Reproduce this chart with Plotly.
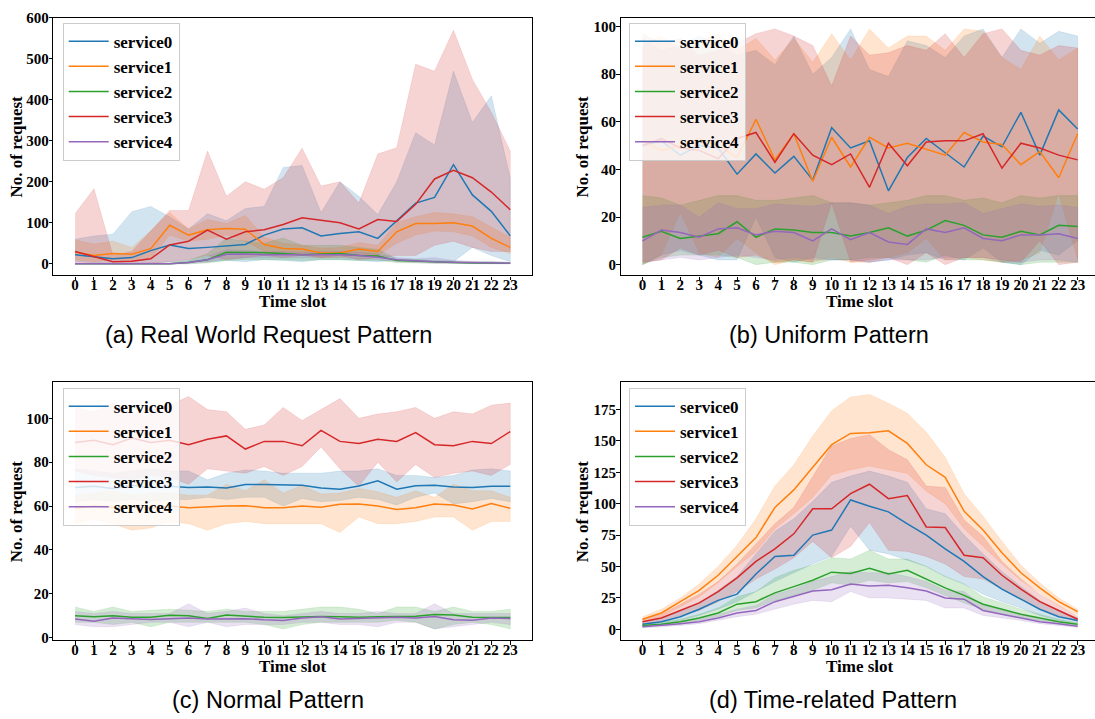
import plotly.graph_objects as go

HOURS = list(range(24))
SERVICES = ["service0", "service1", "service2", "service3", "service4"]
CAPTIONS = ["(a) Real World Request Pattern", "(b) Uniform Pattern",
            "(c) Normal Pattern", "(d) Time-related Pattern"]
X_TITLE = "Time slot"
Y_TITLE = "No. of request"

# ---------------- (a) Real world ----------------
a_mean0 = [22, 17, 12, 15, 32, 46, 37, 40, 43, 47, 70, 85, 88, 68, 74, 78, 62, 105, 148, 162, 242, 168, 128, 68]
a_up0 = [60, 68, 72, 127, 140, 115, 85, 122, 105, 135, 140, 235, 240, 125, 200, 165, 120, 200, 320, 290, 470, 345, 410, 210]
a_lo0 = [5, 2, 0, 0, 2, 5, 5, 5, 8, 5, 10, 8, 5, 10, 10, 8, 5, 10, 10, 5, 5, 40, 20, 5]
a_mean1 = [28, 20, 25, 23, 37, 94, 70, 83, 86, 84, 47, 37, 36, 26, 26, 36, 30, 78, 98, 98, 100, 92, 62, 40]
a_up1 = [58, 48, 55, 40, 80, 125, 85, 108, 98, 118, 65, 50, 45, 38, 40, 52, 45, 100, 115, 125, 122, 115, 90, 65]
a_lo1 = [10, 5, 10, 8, 12, 70, 55, 60, 70, 55, 30, 22, 25, 15, 15, 22, 20, 50, 70, 80, 78, 68, 40, 25]
a_mean2 = [0, 0, 0, 0, 0, 0, 3, 10, 28, 28, 27, 25, 22, 24, 25, 20, 19, 8, 6, 4, 3, 2, 2, 1]
a_up2 = [1, 1, 1, 1, 1, 2, 8, 25, 62, 55, 50, 63, 45, 45, 45, 40, 35, 12, 10, 8, 6, 5, 5, 3]
a_lo2 = [0, 0, 0, 0, 0, 0, 0, 2, 8, 10, 10, 10, 8, 10, 10, 8, 8, 3, 2, 1, 1, 0, 0, 0]
a_mean3 = [30, 18, 5, 6, 12, 46, 55, 82, 60, 78, 83, 96, 112, 106, 100, 85, 108, 103, 145, 207, 228, 210, 175, 132]
a_up3 = [122, 183, 20, 30, 80, 130, 130, 275, 165, 200, 182, 210, 282, 190, 200, 148, 268, 283, 487, 470, 570, 450, 370, 275]
a_lo3 = [0, 0, 0, 0, 0, 5, 10, 20, 10, 15, 20, 15, 20, 15, 20, 10, 15, 20, 20, 45, 55, 40, 30, 30]
a_mean4 = [0, 0, 0, 0, 0, 0, 3, 10, 23, 24, 22, 22, 21, 22, 22, 20, 16, 10, 7, 5, 4, 3, 3, 1]
a_up4 = [1, 1, 1, 1, 1, 1, 6, 18, 35, 32, 30, 30, 28, 30, 30, 28, 24, 15, 12, 15, 8, 6, 6, 3]
a_lo4 = [0, 0, 0, 0, 0, 0, 0, 4, 12, 14, 14, 14, 14, 14, 14, 12, 10, 5, 3, 1, 1, 0, 0, 0]

# ---------------- (b) Uniform ----------------
b_mean0 = [50, 52, 46, 50, 49, 38, 46.5, 38.5, 45.5, 35.5, 57.5, 49, 52, 31, 45, 53, 47, 41, 54, 49.5, 64, 46, 65, 57]
b_up0 = [95, 90, 92, 96, 93, 88, 90, 84, 96, 80, 87, 99, 82, 79, 94, 92, 87, 96, 99, 87, 99, 93, 98, 96]
b_lo0 = [0, 4, 6, 4, 2, 2, 20, 3, 1, 3, 2, 2, 1, 2, 4, 5, 2, 2, 7, 1, 0, 6, 4, 10]
b_mean1 = [52, 48, 50, 53, 50, 45, 61, 44, 55, 35, 53.5, 41, 53.5, 49, 51, 48.5, 46, 55.5, 51.5, 50.5, 42, 47.5, 36.5, 55]
b_up1 = [92, 96, 90, 94, 97, 90, 95, 86, 95, 85, 97, 86, 99, 91, 96, 96, 90, 99, 98, 87, 82, 96, 86, 91]
b_lo1 = [0, 4, 22, 5, 3, 11, 5, 0, 2, 1, 3, 1, 1, 3, 5, 11, 2, 3, 2, 1, 2, 5, 30, 2]
b_mean2 = [11.5, 14, 11, 12, 13, 18, 11.5, 15, 14.5, 13.5, 13.5, 12, 13.5, 15.5, 12, 14.5, 18.5, 16.5, 12.5, 11.5, 14, 12.5, 16.5, 16]
b_up2 = [29, 28, 25, 27, 29, 29, 27, 27, 28, 29, 26, 26, 25, 26, 27, 29, 29, 27, 28, 26, 29, 28, 29, 29]
b_lo2 = [0, 3, 4, 4, 4, 3, 0, 1, 1, 0, 2, 2, 3, 3, 2, 1, 4, 2, 2, 1, 0, 1, 1, 1]
b_mean3 = [50, 53, 49, 48, 44.5, 53, 55.5, 43, 55, 46, 42, 46.5, 32.5, 51, 41.5, 51.5, 52, 52, 55, 40.5, 51, 49, 46, 44]
b_up3 = [97, 93, 95, 88, 90, 93, 97, 99, 96, 92, 75, 96, 88, 89, 92, 90, 97, 87, 97, 99, 90, 88, 92, 91]
b_lo3 = [1, 2, 7, 4, 6, 3, 4, 1, 2, 1, 26, 1, 2, 3, 0, 5, 0, 3, 3, 2, 1, 10, 0, 1]
b_mean4 = [10, 14.5, 13.5, 11.5, 15, 15.5, 12.5, 14, 13.5, 10, 15, 10.5, 13.5, 9.5, 8.5, 15, 13.5, 15.5, 11, 10, 12.5, 12.5, 13, 11]
b_up4 = [24, 25, 25, 20, 26, 23.5, 23.5, 25.5, 25, 24.5, 26, 26, 25, 21.5, 24.5, 25.5, 25.5, 26, 21.5, 23.5, 25.5, 24.5, 25, 24]
b_lo4 = [1, 2, 3, 2, 3, 4, 3, 2, 3, 2, 2, 2, 1, 2, 2, 2, 3, 3, 3, 1, 1, 2, 2, 1]

# ---------------- (c) Normal ----------------
c_mean0 = [68.5, 69, 68, 69.5, 68.5, 69, 68.5, 68.7, 68.3, 69.8, 69.8, 69.7, 69.5, 68.2, 67.7, 69.2, 71.5, 67.7, 69.3, 69.5, 68.7, 68.5, 69, 69]
c_up0 = [77, 76, 75, 76, 77, 76, 76, 72, 75, 76.5, 76, 75, 75, 75, 76, 76, 77, 74, 74, 73, 74, 76.5, 77, 76]
c_lo0 = [62, 63, 62, 63, 62, 63, 63, 64, 63, 64, 64, 60, 63.5, 62, 62.5, 64, 63, 60.5, 64, 66, 61, 62, 63.5, 62]
c_mean1 = [59, 60, 59.5, 60, 59, 60, 59.3, 59.8, 60.1, 60.2, 59.3, 59.3, 60, 59.5, 60.8, 61, 60, 58.5, 59.3, 61, 60.5, 58.7, 61.2, 59]
c_up1 = [65, 66, 67, 65, 66, 66, 65, 65, 70, 67, 72, 66, 69.5, 65.5, 66, 68, 66.5, 64, 67, 64, 70, 67, 67, 64]
c_lo1 = [52, 54, 52, 49, 50, 53, 52, 49, 52, 53, 52, 52, 52, 52, 48, 55, 52, 52, 53, 55, 55, 49, 53, 53]
c_mean2 = [10, 9.5, 10, 9.3, 9.3, 10.2, 10, 8.8, 10.4, 9.8, 9.3, 9.2, 9.5, 9.7, 9.5, 9.3, 9.5, 9.7, 9.8, 10.6, 10.3, 9.3, 9.3, 9.2]
c_up2 = [14, 12, 14, 12, 12.5, 13, 12.5, 12, 13, 12, 12, 12, 13, 14, 14, 13, 11, 14, 14, 12, 14, 12, 12, 13]
c_lo2 = [7, 7, 6, 7, 5, 7, 7, 7, 7, 7, 6, 4, 6, 7, 7, 7, 7, 8, 7, 4, 6, 7, 6, 4]
c_mean3 = [89, 90, 88, 91, 89, 90, 88, 90.5, 92, 86, 89.5, 89.5, 87.5, 94.5, 89.5, 88.5, 90.5, 89.5, 93.5, 88, 87.5, 89.5, 88.5, 94]
c_up3 = [105, 103, 107, 102, 104, 106, 110, 104, 103, 95, 97, 105, 99, 104, 109, 100, 102, 103, 105, 100, 103, 102, 106, 107]
c_lo3 = [76, 74, 73, 72, 74, 73, 70, 77, 76, 75, 78, 74, 78, 87, 77, 69, 80, 71, 79, 73, 75, 76, 74, 79]
c_mean4 = [8.5, 7.5, 9, 8.8, 8.3, 8.6, 9, 8.5, 8.5, 8.7, 8.2, 7.9, 9, 9.5, 8.5, 8.8, 8.8, 9.3, 9, 9.7, 8.2, 8, 9, 8.7]
c_up4 = [12, 11, 12, 11, 11, 11, 15.5, 11, 12, 13.5, 11, 10, 11, 12, 11, 11, 12, 11, 11, 15.5, 11, 11, 11, 11]
c_lo4 = [6, 5, 5, 6, 7, 7, 5, 7, 5, 6, 6, 6, 7, 7, 6, 6, 5, 7, 7, 4, 5, 6, 7, 6]

# ---------------- (d) Time-related ----------------
d_mean0 = [4, 6, 10, 16, 23, 28, 44, 58, 59, 75, 79, 103, 98, 93.5, 84, 75, 64, 54, 42, 32, 24, 16, 10, 7]
d_up0 = [6, 9, 14, 21, 31, 42, 60, 78, 88, 102, 117, 122, 126, 122, 117, 96, 92, 75, 60, 46, 34, 23, 15, 9]
d_lo0 = [2, 4, 7, 11, 16, 22, 30, 38, 45, 52, 58, 82, 63, 60, 55, 50, 42, 36, 28, 22, 17, 11, 7, 5]
d_mean1 = [8, 13, 22, 31, 43, 58, 73, 97, 111, 129, 147, 156, 156.5, 158, 148, 131, 121, 94, 79, 61, 45, 33, 22, 14]
d_up1 = [10, 16, 25, 36, 50, 67, 88, 114, 131, 154, 174, 185, 187, 180, 172, 157, 137, 108, 90, 70, 51, 37, 25, 16]
d_lo1 = [6, 10, 18, 26, 37, 50, 62, 80, 92, 105, 123, 127, 130, 127, 124, 110, 100, 80, 66, 52, 39, 29, 19, 11]
d_mean2 = [3, 4, 6, 9, 13, 20, 22, 29, 34, 39, 45.5, 44.5, 48.5, 44, 47, 40, 33, 27, 20, 16, 12, 9, 6, 4]
d_up2 = [4, 6, 8, 12, 17, 26, 30, 41, 47, 51, 57, 56, 63, 56, 56, 50, 42, 36, 26, 21, 16, 12, 8, 5]
d_lo2 = [2, 3, 4, 7, 10, 15, 17, 23, 27, 31, 37, 35, 39, 37, 38, 33, 27, 21, 16, 12, 9, 7, 4, 3]
d_mean3 = [6, 9, 15, 21, 30, 41, 54, 64, 76, 96, 96, 108, 115.5, 104, 106.5, 81.5, 81, 59, 57, 43, 32, 22, 15, 8]
d_up3 = [8, 12, 20, 28, 38, 52, 68, 84, 97, 122, 146, 152, 155, 143, 135, 114, 113, 87, 74, 54, 40, 28, 19, 10]
d_lo3 = [4, 7, 11, 15, 22, 30, 40, 48, 57, 70, 57, 66, 85, 63, 62, 58, 52, 42, 40, 32, 24, 16, 11, 6]
d_mean4 = [2, 3, 4.5, 6, 9, 13, 15, 22, 26, 30.5, 31.5, 36, 34.5, 35, 33, 30.5, 25, 24, 15, 12, 9.5, 6, 4.5, 2.5]
d_up4 = [3, 4, 6, 8, 12, 16, 19, 28, 32, 38, 42, 46, 45, 45, 42, 38, 31, 30, 19, 15, 12, 8, 6, 3.5]
d_lo4 = [1, 2, 3, 4.5, 7, 10, 12, 16, 20, 23, 22, 30, 25, 25, 24, 23, 17, 17, 11, 9, 7, 4.5, 3, 1.5]

Y_TICKS = [
    [0, 100, 200, 300, 400, 500, 600],
    [0, 20, 40, 60, 80, 100],
    [0, 20, 40, 60, 80, 100],
    [0, 25, 50, 75, 100, 125, 150, 175],
]

PANELS = [
    ([a_mean0, a_mean1, a_mean2, a_mean3, a_mean4],
     [a_lo0, a_lo1, a_lo2, a_lo3, a_lo4],
     [a_up0, a_up1, a_up2, a_up3, a_up4]),
    ([b_mean0, b_mean1, b_mean2, b_mean3, b_mean4],
     [b_lo0, b_lo1, b_lo2, b_lo3, b_lo4],
     [b_up0, b_up1, b_up2, b_up3, b_up4]),
    ([c_mean0, c_mean1, c_mean2, c_mean3, c_mean4],
     [c_lo0, c_lo1, c_lo2, c_lo3, c_lo4],
     [c_up0, c_up1, c_up2, c_up3, c_up4]),
    ([d_mean0, d_mean1, d_mean2, d_mean3, d_mean4],
     [d_lo0, d_lo1, d_lo2, d_lo3, d_lo4],
     [d_up0, d_up1, d_up2, d_up3, d_up4]),
]

# ---------------- styling / layout ----------------
W, H = 1095, 719
COLORS = ["#1f77b4", "#ff7f0e", "#2ca02c", "#d62728", "#9467bd"]
FILLS = ["rgba(31,119,180,0.2)", "rgba(255,127,14,0.2)", "rgba(44,160,44,0.2)",
         "rgba(214,39,40,0.2)", "rgba(148,103,189,0.2)"]

# pixel boxes (left, right, top, bottom)
BOXES = [(53.3, 532.0, 10.7, 273.3), (620.7, 1099.4, 10.7, 273.3),
         (53.3, 532.0, 382.3, 645.0), (620.7, 1099.4, 382.3, 645.0)]
YRANGES = [(-28.3, 601.0), (-4.5, 103.8), (-1.2, 116.4), (-8.8, 196.6)]
XRANGE = (-1.15, 24.15)
LEGEND_POS = [(62.7, 16.0), (629.0, 16.0), (62.7, 387.7), (629.0, 387.7)]
YLABEL_X = [16, 582, 16, 582]
CAPTION_POS = [(268, 334), (829, 334), (268, 706), (833, 706)]

SERIF = "Liberation Serif"
SANS = "Liberation Sans"

fig = go.Figure()
layout = dict(width=W, height=H, margin=dict(l=0, r=0, t=0, b=0),
              paper_bgcolor="white", plot_bgcolor="white", showlegend=True)
annotations = []

for p, (means, los, ups) in enumerate(PANELS):
    sfx = "" if p == 0 else str(p + 1)
    xa, ya = "x" + sfx, "y" + sfx
    left, right, top, bottom = BOXES[p]
    xr0, xr1 = XRANGE
    if right > W:
        scale = (xr1 - xr0) / (right - left)
        xr1 = xr0 + (W - left) * scale
        right = W
    leg = "legend" if p == 0 else "legend" + str(p + 1)

    for i in range(5):
        fig.add_trace(go.Scatter(
            x=HOURS + HOURS[::-1], y=ups[i] + los[i][::-1],
            fill="toself", fillcolor=FILLS[i], line=dict(width=0.6, color=FILLS[i]),
            mode="lines", hoverinfo="skip", showlegend=False, xaxis=xa, yaxis=ya))
    for i in range(5):
        fig.add_trace(go.Scatter(
            x=HOURS, y=means[i], mode="lines", name=SERVICES[i],
            line=dict(color=COLORS[i], width=1.5), legend=leg,
            xaxis=xa, yaxis=ya))

    tickfont = dict(family=SERIF, size=15, color="black", weight="bold")
    layout["xaxis" + sfx] = dict(
        domain=[left / W, right / W], range=[xr0, xr1], anchor=ya,
        tickmode="array", tickvals=HOURS, ticktext=[str(h) for h in HOURS],
        showline=True, linecolor="black", linewidth=1.3, mirror=True,
        ticks="outside", ticklen=3.5, tickwidth=1, tickcolor="black",
        ticklabelstandoff=-8,
        showgrid=False, zeroline=False, tickfont=tickfont, fixedrange=True)
    layout["yaxis" + sfx] = dict(
        domain=[1 - bottom / H, 1 - top / H], range=list(YRANGES[p]), anchor=xa,
        tickmode="array", tickvals=Y_TICKS[p],
        showline=True, linecolor="black", linewidth=1.3,
        mirror=(BOXES[p][1] <= W),
        ticks="outside", ticklen=3.5, tickwidth=1, tickcolor="black",
        ticklabelstandoff=-3,
        showgrid=False, zeroline=False, tickfont=tickfont, fixedrange=True)
    lx, ly = LEGEND_POS[p]
    layout[leg] = dict(
        x=lx / W, y=1 - ly / H, xanchor="left", yanchor="top",
        xref="paper", yref="paper",
        bgcolor="rgba(255,255,255,0.8)", bordercolor="#cccccc", borderwidth=1,
        font=dict(family=SERIF, size=17, color="black", weight="bold"),
        itemwidth=40)

    cx = (BOXES[p][0] + BOXES[p][1]) / 2
    annotations.append(dict(
        text=X_TITLE, x=cx / W, y=1 - (bottom + 27) / H, xref="paper", yref="paper",
        showarrow=False, xanchor="center", yanchor="middle",
        font=dict(family=SERIF, size=17, color="black", weight="bold")))
    annotations.append(dict(
        text=Y_TITLE, x=YLABEL_X[p] / W, y=1 - ((top + bottom) / 2) / H,
        xref="paper", yref="paper", textangle=-90,
        showarrow=False, xanchor="center", yanchor="middle",
        font=dict(family=SERIF, size=17, color="black", weight="bold")))
    capx, capy = CAPTION_POS[p]
    annotations.append(dict(
        text=CAPTIONS[p], x=capx / W, y=1 - capy / H, xref="paper", yref="paper",
        showarrow=False, xanchor="center", yanchor="middle",
        font=dict(family=SANS, size=23.5, color="black")))

layout["annotations"] = annotations
fig.update_layout(**layout)
fig.write_html(
    "out.html",
    config={"displayModeBar": False},
    post_script="document.body.style.margin='0';document.body.style.overflow='hidden';",
)
